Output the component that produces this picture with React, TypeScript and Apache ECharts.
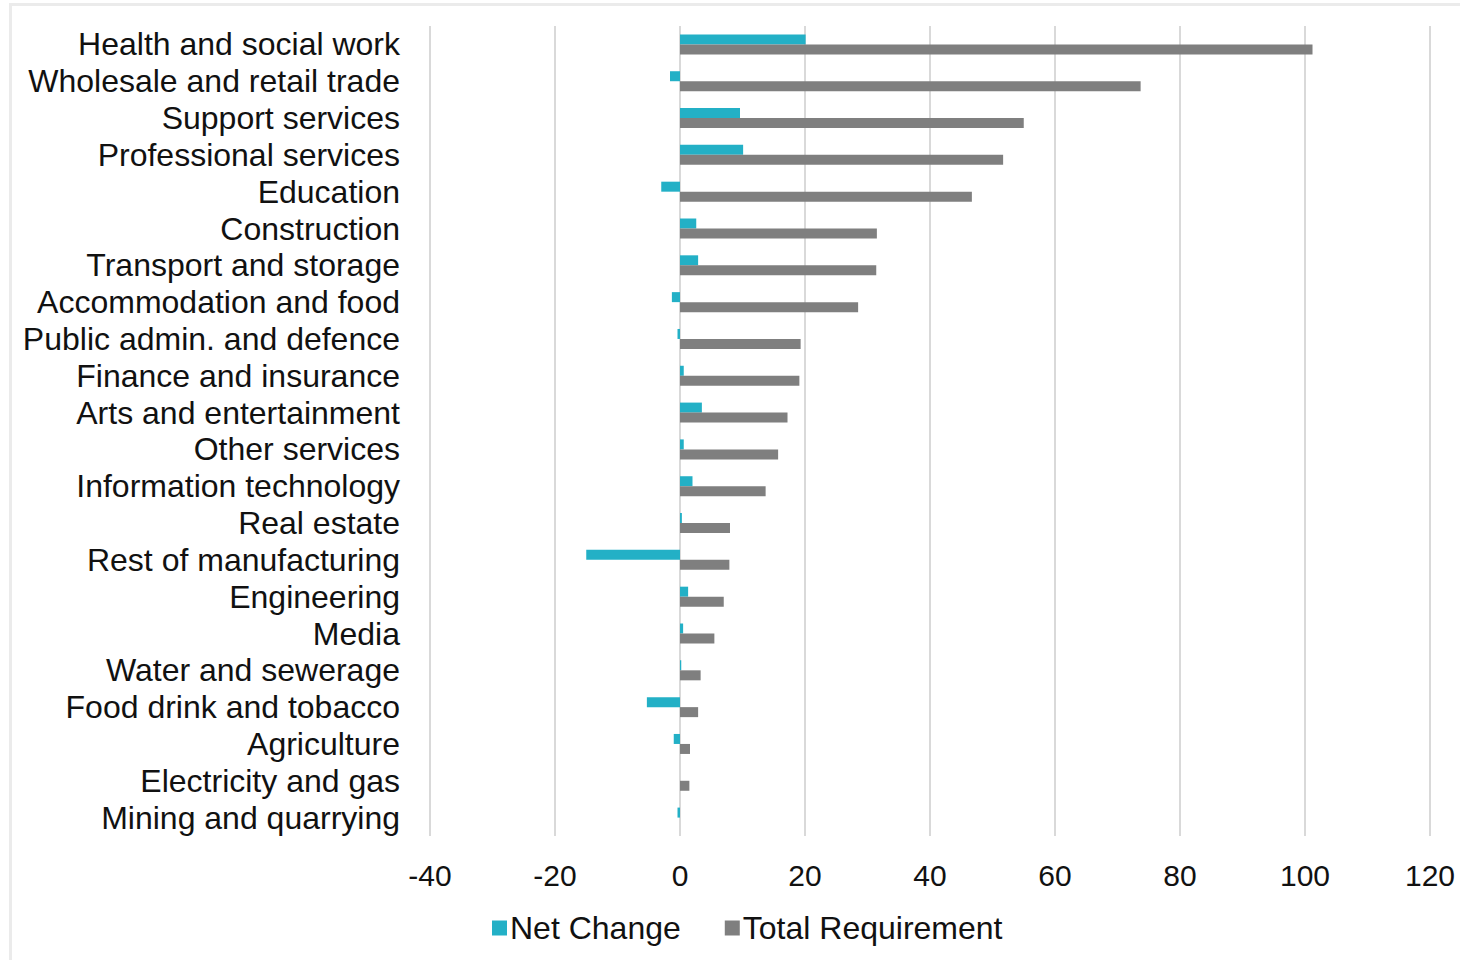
import React, { useEffect, useRef } from "react";
import * as echarts from "echarts";

const categories = [
  "Health and social work",
  "Wholesale and retail trade",
  "Support services",
  "Professional services",
  "Education",
  "Construction",
  "Transport and storage",
  "Accommodation and food",
  "Public admin. and defence",
  "Finance and insurance",
  "Arts and entertainment",
  "Other services",
  "Information technology",
  "Real estate",
  "Rest of manufacturing",
  "Engineering",
  "Media",
  "Water and sewerage",
  "Food drink and tobacco",
  "Agriculture",
  "Electricity and gas",
  "Mining and quarrying",
];

const netChange = [20.1, -1.6, 9.6, 10.1, -3.0, 2.6, 2.9, -1.3, -0.4, 0.6, 3.5, 0.6, 2.0, 0.3, -15.0, 1.3, 0.5, 0.2, -5.3, -1.0, 0, -0.4];
const totalRequirement = [101.2, 73.7, 55.0, 51.7, 46.7, 31.5, 31.4, 28.5, 19.3, 19.1, 17.2, 15.7, 13.7, 8.0, 7.9, 7.0, 5.5, 3.3, 2.9, 1.6, 1.5, 0];

const xMin = -40;
const xMax = 120;
const xStep = 20;

const FONT = "'Liberation Sans', Arial, sans-serif";

export default function App() {
  const ref = useRef<HTMLDivElement>(null);

  useEffect(() => {
    document.body.style.margin = "0";
    if (!ref.current) return;
    const chart = echarts.init(ref.current, null, { renderer: "svg" });
    chart.setOption({
      animation: false,
      backgroundColor: "#ffffff",
      textStyle: { fontFamily: FONT },
      graphic: [
        { type: "rect", shape: { x: 9, y: 3, width: 1451, height: 3 }, style: { fill: "#ebebeb" }, silent: true },
        { type: "rect", shape: { x: 9, y: 3, width: 3, height: 957 }, style: { fill: "#ebebeb" }, silent: true },
      ],
      grid: { left: 430, right: 30, top: 26, bottom: 124, containLabel: false },
      legend: {
        left: 487,
        top: 907,
        itemWidth: 15,
        itemHeight: 15,
        itemGap: 44,
        icon: "rect",
        textStyle: { fontSize: 32, color: "#111", fontFamily: FONT, padding: [0, 0, 0, -2] },
        data: ["Net Change", "Total Requirement"],
      },
      xAxis: {
        type: "value",
        min: xMin,
        max: xMax,
        interval: xStep,
        axisLine: { show: false },
        axisTick: { show: false },
        splitLine: { show: true, lineStyle: { color: "#d9d9d9", width: 2 } },
        axisLabel: { fontSize: 30, color: "#111", margin: 24, fontFamily: FONT },
      },
      yAxis: {
        type: "category",
        data: categories,
        inverse: true,
        axisLine: { show: false, onZero: false },
        axisTick: { show: false },
        splitLine: { show: false },
        axisLabel: { fontSize: 32, color: "#111", margin: 30, interval: 0, fontFamily: FONT },
      },
      series: [
        {
          name: "Net Change",
          type: "bar",
          data: netChange,
          barWidth: 10,
          barGap: "0%",
          itemStyle: { color: "#23b0c6" },
        },
        {
          name: "Total Requirement",
          type: "bar",
          data: totalRequirement,
          barWidth: 10,
          barGap: "0%",
          itemStyle: { color: "#7f7f7f" },
        },
      ],
    });
    return () => chart.dispose();
  }, []);

  return <div ref={ref} style={{ width: 1460, height: 960 }} />;
}
